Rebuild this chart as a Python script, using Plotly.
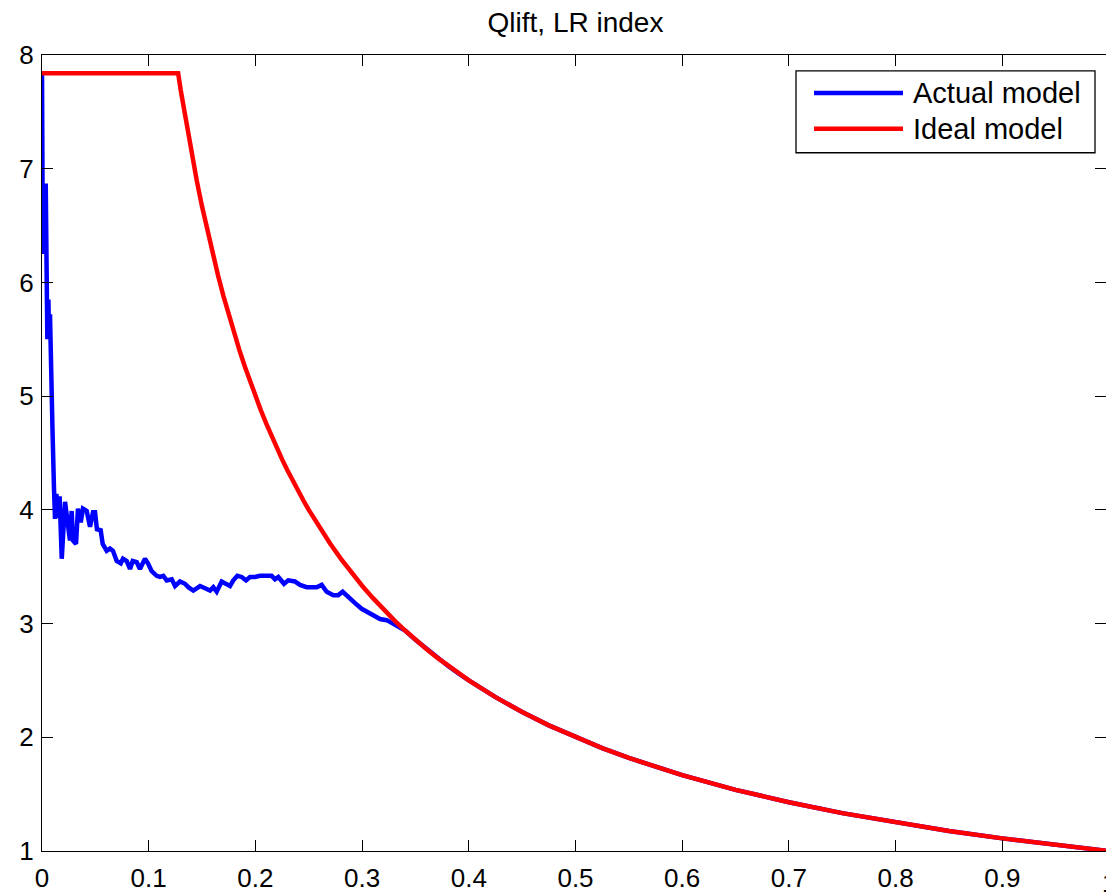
import plotly.graph_objects as go

# Fraction of population (x) and lift values for each model
actual_x = [0, 0.0008, 0.0035, 0.004, 0.005, 0.006, 0.0065, 0.0075, 0.008, 0.0088,
            0.0098, 0.0112, 0.0122, 0.0135, 0.015, 0.0165, 0.0185, 0.0216, 0.0231,
            0.0262, 0.0278, 0.0291, 0.0319, 0.0337, 0.0363, 0.0384, 0.0419, 0.045,
            0.0478, 0.0497, 0.0515, 0.055, 0.0569, 0.0606, 0.0637, 0.0665, 0.070,
            0.0738, 0.0759, 0.0794, 0.0825, 0.085, 0.0888, 0.0918, 0.0965, 0.0993,
            0.1028, 0.1075, 0.1106, 0.1137, 0.1169, 0.1216, 0.1247, 0.1293, 0.134,
            0.1371, 0.1418, 0.145, 0.1481, 0.1528, 0.1575, 0.1606, 0.1637, 0.1684,
            0.1715, 0.1762, 0.1793, 0.1831, 0.1871, 0.1912, 0.1949, 0.1996, 0.2043,
            0.2106, 0.2152, 0.2184, 0.2215, 0.2268, 0.2308, 0.237, 0.2418, 0.248,
            0.2574, 0.2621, 0.2668, 0.2730, 0.2777, 0.2818, 0.2871, 0.2934, 0.2996,
            0.3058, 0.3121, 0.3168, 0.3231, 0.3293, 0.3355, 0.34, 0.35, 0.36, 0.37,
            0.38, 0.39, 0.4, 0.425, 0.45, 0.475, 0.5, 0.525, 0.55, 0.575, 0.6, 0.65,
            0.7, 0.75, 0.8, 0.85, 0.9, 0.95, 1.0]
actual_y = [7.84, 6.25, 6.87, 5.9, 5.5, 5.85, 5.55, 5.72, 5.4, 5.1,
            4.72, 4.2, 3.92, 4.14, 3.93, 4.12, 3.57, 4.07, 3.98,
            3.73, 3.99, 3.73, 3.70, 4.01, 3.89, 4.01, 3.99, 3.85,
            3.98, 3.98, 3.83, 3.82, 3.70, 3.64, 3.66, 3.64, 3.55,
            3.53, 3.57, 3.55, 3.48, 3.55, 3.54, 3.48, 3.57, 3.53,
            3.46, 3.42, 3.41, 3.42, 3.38, 3.39, 3.33, 3.37, 3.35,
            3.32, 3.29, 3.31, 3.33, 3.31, 3.29, 3.32, 3.28, 3.37,
            3.35, 3.33, 3.38, 3.42, 3.41, 3.38, 3.41, 3.41, 3.42,
            3.42, 3.42, 3.39, 3.41, 3.35, 3.38, 3.37, 3.34, 3.32,
            3.32, 3.34, 3.28, 3.25, 3.25, 3.28, 3.24, 3.18, 3.13,
            3.10, 3.07, 3.04, 3.03, 3.00, 2.96, 2.941, 2.857, 2.778, 2.703,
            2.632, 2.564, 2.500, 2.353, 2.222, 2.105, 2.000, 1.905, 1.818, 1.739,
            1.667, 1.538, 1.429, 1.333, 1.250, 1.176, 1.111, 1.053, 1.000]

ideal_x = [0, 0.1276, 0.13, 0.135, 0.14, 0.145, 0.15, 0.155, 0.16, 0.165, 0.17, 0.175,
           0.18, 0.185, 0.19, 0.195, 0.2, 0.205, 0.21, 0.215, 0.22, 0.225, 0.23, 0.235,
           0.24, 0.245, 0.25, 0.26, 0.27, 0.28, 0.29, 0.3, 0.31, 0.32, 0.33, 0.34, 0.35,
           0.36, 0.37, 0.38, 0.39, 0.4, 0.425, 0.45, 0.475, 0.5, 0.525, 0.55, 0.575,
           0.6, 0.65, 0.7, 0.75, 0.8, 0.85, 0.9, 0.95, 1.0]
ideal_y = [7.84, 7.84, 7.692, 7.407, 7.143, 6.897, 6.667, 6.452, 6.250, 6.061, 5.882,
           5.714, 5.556, 5.405, 5.263, 5.128, 5.000, 4.878, 4.762, 4.651, 4.545, 4.444,
           4.348, 4.255, 4.167, 4.082, 4.000, 3.846, 3.704, 3.571, 3.448, 3.333, 3.226,
           3.125, 3.030, 2.941, 2.857, 2.778, 2.703, 2.632, 2.564, 2.500, 2.353, 2.222,
           2.105, 2.000, 1.905, 1.818, 1.739, 1.667, 1.538, 1.429, 1.333, 1.250, 1.176,
           1.111, 1.053, 1.000]

x_ticks = [0, 0.1, 0.2, 0.3, 0.4, 0.5, 0.6, 0.7, 0.8, 0.9, 1]
y_ticks = [1, 2, 3, 4, 5, 6, 7, 8]
series_names = ["Actual model", "Ideal model"]
series_colors = ["#0000ff", "#ff0000"]

W, H = 1106, 893
L, R, T, B = 42, 0, 55, 40
PX_PER_UNIT_X = 1067  # pixels per unit on the x axis
x_max = (W - L - R) / PX_PER_UNIT_X

FONT = "Liberation Sans, Arial, Helvetica, sans-serif"
TICK_SIZE = 26

fig = go.Figure()
fig.add_trace(go.Scatter(x=actual_x, y=actual_y, mode="lines", name=series_names[0],
                         line=dict(color=series_colors[0], width=4.5)))
fig.add_trace(go.Scatter(x=ideal_x, y=ideal_y, mode="lines", name=series_names[1],
                         line=dict(color=series_colors[1], width=4.5)))
# Empty trace that carries the right-hand tick axis
fig.add_trace(go.Scatter(x=[None], y=[None], yaxis="y2", showlegend=False,
                         hoverinfo="skip"))

tick_style = dict(showgrid=False, zeroline=False, linecolor="black", linewidth=1.3,
                  ticks="inside", ticklen=11, tickwidth=1.3, tickcolor="black",
                  tickfont=dict(family=FONT, size=TICK_SIZE, color="black"))

fig.update_layout(
    width=W, height=H,
    margin=dict(l=L, r=R, t=T, b=B, pad=0),
    paper_bgcolor="white", plot_bgcolor="white",
    showlegend=False,
    title=dict(text="Qlift, LR index", x=(L + PX_PER_UNIT_X / 2) / W, xanchor="center",
               y=1 - 22 / H, yanchor="middle",
               font=dict(family=FONT, size=28, color="black")),
    xaxis=dict(range=[0, x_max], tickvals=x_ticks[:-1],
               ticktext=[str(v) for v in x_ticks[:-1]], showline=True,
               mirror="ticks", ticklabelstandoff=4, **tick_style),
    yaxis=dict(range=[1, 8], tickvals=y_ticks, showline=True, mirror=False,
               ticklabelstandoff=2, **tick_style),
    yaxis2=dict(range=[1, 8], tickvals=y_ticks, overlaying="y", side="right",
                showline=False, showticklabels=False, **tick_style),
)

plot_w = W - L - R
plot_h = H - T - B


def px_x(p):
    return (p - L) / plot_w


def px_y(p):
    return (H - B - p) / plot_h


# Last x tick label sits at the right edge of the canvas
fig.add_annotation(text=str(x_ticks[-1]), xref="paper", yref="paper",
                   x=x_ticks[-1] * PX_PER_UNIT_X / plot_w, y=px_y(868),
                   xanchor="center", yanchor="top", showarrow=False,
                   font=dict(family=FONT, size=TICK_SIZE, color="black"))

# Boxed legend in the top-right corner
fig.add_shape(type="rect", xref="paper", yref="paper",
              x0=px_x(796), x1=px_x(1095), y0=px_y(153), y1=px_y(71),
              line=dict(color="black", width=1.3), fillcolor="white", layer="above")
for i, (name, color) in enumerate(zip(series_names, series_colors)):
    yy = px_y(93 + 36 * i)
    fig.add_shape(type="line", xref="paper", yref="paper",
                  x0=px_x(814), x1=px_x(903), y0=yy, y1=yy,
                  line=dict(color=color, width=4.5), layer="above")
    fig.add_annotation(text=name, xref="paper", yref="paper", x=px_x(911), y=yy,
                       xanchor="left", yanchor="middle", showarrow=False,
                       font=dict(family=FONT, size=29, color="black"))

fig.write_html("out.html")
